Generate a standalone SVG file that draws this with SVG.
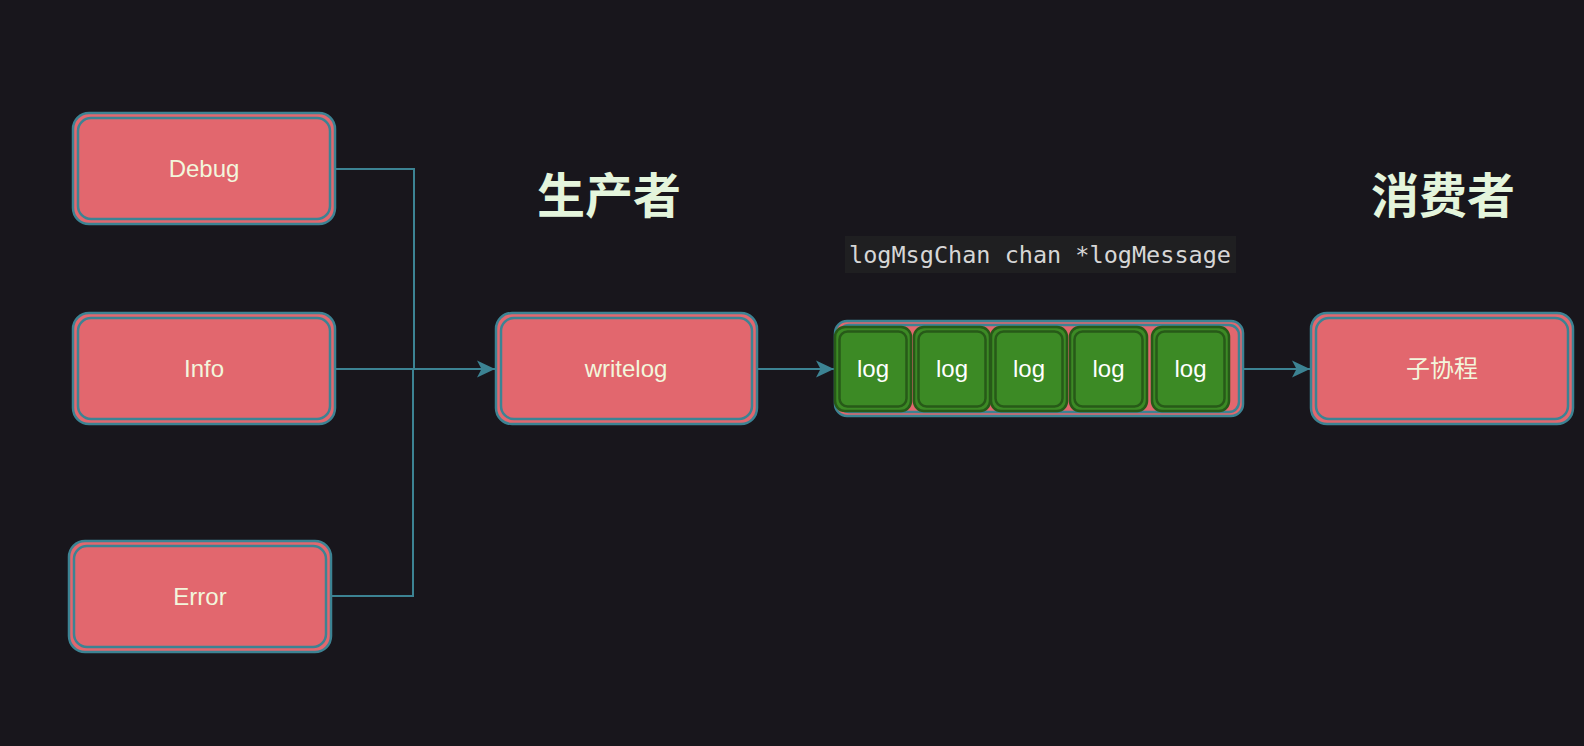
<svg xmlns="http://www.w3.org/2000/svg" width="1584" height="746" viewBox="0 0 1584 746">
  <defs>
    <style>
      .bg { fill: #18161c; }
      .outer { fill: #e2676e; stroke: #3c8393; stroke-width: 2.5; }
      .inner { fill: none; stroke: #3c8393; stroke-width: 2.5; }
      .lbl { font-family: "Liberation Sans", Arial, sans-serif; font-size: 24px; fill: #f2f6dc; text-anchor: middle; dominant-baseline: central; }
      .cjk { font-family: "Liberation Sans", "Noto Sans CJK SC", sans-serif; }
      .title { font-family: "Noto Sans CJK SC", sans-serif; font-size: 48px; font-weight: bold; fill: #e4f5dc; text-anchor: middle; dominant-baseline: central; }
      .cell { fill: #3c8a25; stroke: #275a18; stroke-width: 2.5; }
      .cellin { fill: none; stroke: #275a18; stroke-width: 2.5; }
      .celltxt { font-family: "Liberation Sans", Arial, sans-serif; font-size: 24px; fill: #ffffff; text-anchor: middle; dominant-baseline: central; }
      .code { font-family: "DejaVu Sans Mono", monospace; font-size: 23.5px; fill: #d6d6d6; dominant-baseline: central; }
      .conn { fill: none; stroke: #3c8393; stroke-width: 2; }
    </style>
    <marker id="arrow" markerUnits="userSpaceOnUse" markerWidth="20" markerHeight="20" viewBox="0 0 20 20" refX="19" refY="10" orient="auto">
      <path d="M1,1.5 L19,10 L1,18.5 L5.5,10 Z" fill="#3c8393"/>
    </marker>
  </defs>

  <rect class="bg" x="0" y="0" width="1584" height="746"/>

  <g id="connectors">
    <polyline class="conn" points="335,169 414,169 414,369"/>
    <polyline class="conn" points="331,596 413,596 413,369"/>
    <line class="conn" x1="335" y1="369" x2="495" y2="369" marker-end="url(#arrow)"/>
    <line class="conn" x1="757" y1="369" x2="834" y2="369" marker-end="url(#arrow)"/>
    <line class="conn" x1="1243" y1="369" x2="1310" y2="369" marker-end="url(#arrow)"/>
  </g>

  <g id="title-producer">
    <text class="title" x="609" y="192">生产者</text>
  </g>
  <g id="title-consumer">
    <text class="title" x="1443" y="192">消费者</text>
  </g>

  <g id="chan-label">
    <rect x="845" y="236" width="391" height="37" fill="#1f1f21"/>
    <text class="code" x="849" y="254.5">logMsgChan chan *logMessage</text>
  </g>

  <g id="node-debug">
    <rect class="outer" x="73" y="113" width="262" height="111" rx="16"/>
    <rect class="inner" x="78" y="118" width="252" height="101" rx="13"/>
    <text class="lbl" x="204" y="168">Debug</text>
  </g>

  <g id="node-info">
    <rect class="outer" x="73" y="313" width="262" height="111" rx="16"/>
    <rect class="inner" x="78" y="318" width="252" height="101" rx="13"/>
    <text class="lbl" x="204" y="368">Info</text>
  </g>

  <g id="node-error">
    <rect class="outer" x="69" y="541" width="262" height="111" rx="16"/>
    <rect class="inner" x="74" y="546" width="252" height="101" rx="13"/>
    <text class="lbl" x="200" y="596">Error</text>
  </g>

  <g id="node-writelog">
    <rect class="outer" x="496" y="313" width="261" height="111" rx="16"/>
    <rect class="inner" x="501" y="318" width="251" height="101" rx="13"/>
    <text class="lbl" x="626" y="368">writelog</text>
  </g>

  <g id="node-channel">
    <rect class="outer" x="835" y="321" width="408" height="95" rx="12"/>
    <rect class="inner" x="839" y="325" width="400" height="87" rx="10"/>
    <g id="log-1">
      <rect class="cell" x="835" y="327" width="76" height="84" rx="10"/>
      <rect class="cellin" x="839.5" y="331.5" width="67" height="75" rx="8"/>
      <text class="celltxt" x="873" y="368">log</text>
    </g>
    <g id="log-2">
      <rect class="cell" x="914" y="327" width="76" height="84" rx="10"/>
      <rect class="cellin" x="918.5" y="331.5" width="67" height="75" rx="8"/>
      <text class="celltxt" x="952" y="368">log</text>
    </g>
    <g id="log-3">
      <rect class="cell" x="991" y="327" width="76" height="84" rx="10"/>
      <rect class="cellin" x="995.5" y="331.5" width="67" height="75" rx="8"/>
      <text class="celltxt" x="1029" y="368">log</text>
    </g>
    <g id="log-4">
      <rect class="cell" x="1070" y="327" width="77" height="84" rx="10"/>
      <rect class="cellin" x="1074.5" y="331.5" width="68" height="75" rx="8"/>
      <text class="celltxt" x="1108.5" y="368">log</text>
    </g>
    <g id="log-5">
      <rect class="cell" x="1152" y="327" width="77" height="84" rx="10"/>
      <rect class="cellin" x="1156.5" y="331.5" width="68" height="75" rx="8"/>
      <text class="celltxt" x="1190.5" y="368">log</text>
    </g>
  </g>

  <g id="node-goroutine">
    <rect class="outer" x="1311" y="313" width="262" height="111" rx="16"/>
    <rect class="inner" x="1316" y="318" width="252" height="101" rx="13"/>
    <text class="lbl cjk" x="1442" y="368">子协程</text>
  </g>
</svg>
